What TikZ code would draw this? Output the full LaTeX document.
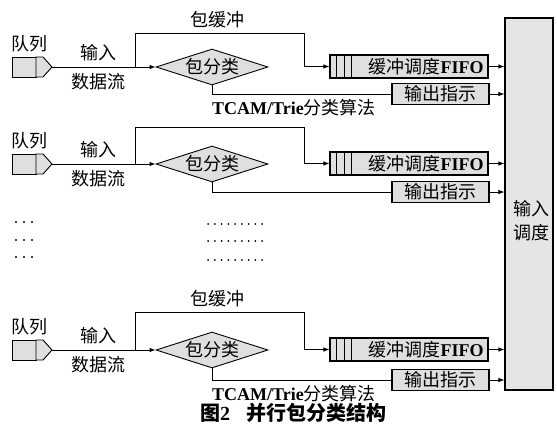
\documentclass[tikz,border=0pt]{standalone}
\usepackage{fontspec}
\setmainfont{Liberation Serif}
\newfontfamily\cjk{Noto Sans CJK SC}
\usetikzlibrary{shapes.geometric,arrows.meta}
\begin{document}
\begin{tikzpicture}[x=1pt,y=-1pt,
  lw/.style={line width=0.9pt},
  arr/.style={lw,-{Latex[length=6pt,width=4.5pt]}},
  lbl/.style={font=\cjk\fontsize{18}{24}\selectfont, inner sep=0pt},
  boxs/.style={draw,line width=1.1pt,fill=gray!25,inner sep=0pt},
  diam/.style={draw,lw,shape=diamond,fill=gray!25,minimum width=112pt,minimum height=36pt,inner sep=0pt,aspect=3},
]
\useasboundingbox (0,0) rectangle (557,428);

\node[boxs,fill=gray!20,minimum width=48pt,minimum height=372pt] (big) at (529,204) {};
\node[lbl,align=center] (bigt) at (531,221) {输入\\调度};

\foreach \i/\dy/\ty/\oy/\lab in {1/0/33/94/1, 2/97/30/95/0, 3/283/29/97/1}{
\begin{scope}[shift={(0,\dy)}]
  \node[lbl] (ql\i) at (29,44) {队列};
  \draw[lw,fill=gray!25] (12,57) rectangle (36,77);
  \draw[lw,fill=gray!25] (36,57) -- (43,57) -- (52,67) -- (43,77) -- (36,77) -- cycle;
  \coordinate (qt\i) at (52,67);
  \coordinate (br\i) at (135,67);
  \node[diam,lbl] (d\i) at (212,67) {包分类};
  \draw[arr] (qt\i) -- (d\i.west);
  \node[lbl] (in\i) at (98,53) {输入};
  \node[lbl] (df\i) at (98,82) {数据流};
  \node[boxs,minimum width=158pt,minimum height=23pt] (f\i) at (409,66.5) {};
  \draw[lw] (f\i.north west) ++(7,0) -- ++(0,23);
  \draw[lw] (f\i.north west) ++(15,0) -- ++(0,23);
  \draw[lw] (f\i.north west) ++(22,0) -- ++(0,23);
  \node[lbl] (ft\i) at (426,66.5) {缓冲调度{\rmfamily\bfseries FIFO}};
  \node[boxs,lbl,minimum width=97pt,minimum height=21pt] (o\i) at (440.5,\oy) {输出指示};
  \coordinate (ct\i) at (304,\ty);
  \draw[arr] (br\i) |- (ct\i) |- (f\i.west);
  \draw[lw] (d\i.south) |- (o\i.west);
  \draw[arr] (f\i.east) -- (f\i.east -| big.west);
  \draw[arr] (o\i.east) -- (o\i.east -| big.west);
  \ifnum\lab=1
    \node[lbl] (pb\i) at (217,\ty-13) {包缓冲};
    \node[lbl,anchor=west] (tc\i) at (212,\oy+14) {{\rmfamily\bfseries TCAM/Trie}分类算法};
  \fi
\end{scope}
}

\foreach \yy in {222,240,257}{
  \foreach \xx in {0,1,2}{\fill (16+8*\xx,\yy) circle (1.1pt);}
}
\foreach \yy in {224,241,260}{
  \foreach \xx in {0,...,8}{\fill (208+6.75*\xx,\yy) circle (1pt);}
}

\node[font=\cjk\bfseries\fontsize{20}{22}\selectfont,inner sep=0pt] (cap) at (293,413) {图{\rmfamily 2}\hspace{0.8em}并行包分类结构};
\end{tikzpicture}
\end{document}
